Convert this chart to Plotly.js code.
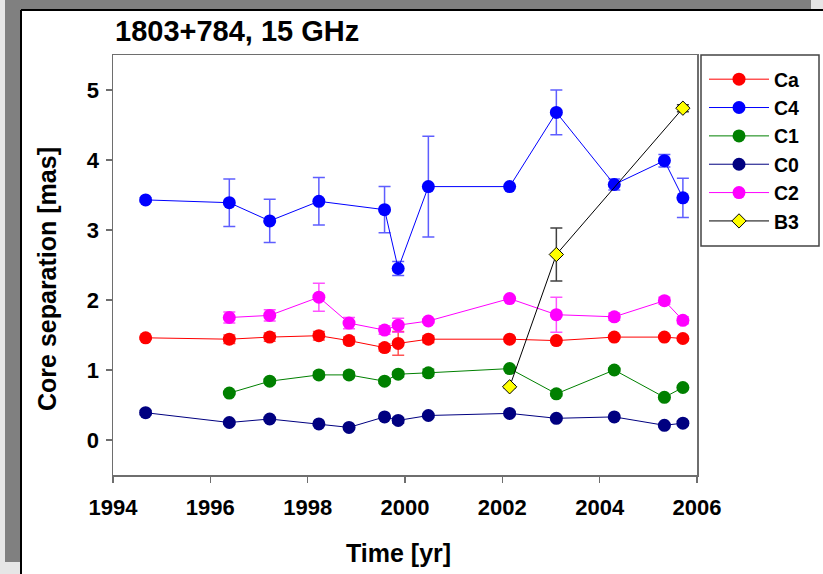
<!DOCTYPE html>
<html>
<head>
<meta charset="utf-8">
<script src="https://cdn.plot.ly/plotly-3.0.1.min.js"></script>
<style>
  html, body { margin: 0; padding: 0; background: #ffffff; }
  #chart { width: 823px; height: 574px; }
</style>
</head>
<body>
<div id="chart"></div>
<script>
// Core separation of jet components of 1803+784 at 15 GHz
const caYears  = [1994.67, 1996.39, 1997.22, 1998.23, 1998.85, 1999.58, 1999.86, 2000.48, 2002.15, 2003.11, 2004.30, 2005.33, 2005.71];
const caSep    = [1.46, 1.44, 1.47, 1.49, 1.42, 1.32, 1.38, 1.44, 1.44, 1.42, 1.47, 1.47, 1.45];
const caErr    = [0.02, 0.06, 0.06, 0.06, 0.05, 0.05, 0.17, 0.05, 0.00, 0.00, 0.02, 0.02, 0.03];

const c4Years  = [1994.67, 1996.39, 1997.22, 1998.23, 1999.58, 1999.86, 2000.48, 2002.15, 2003.11, 2004.30, 2005.33, 2005.71];
const c4Sep    = [3.43, 3.39, 3.13, 3.41, 3.29, 2.45, 3.62, 3.62, 4.68, 3.65, 3.99, 3.46];
const c4Err    = [0.03, 0.34, 0.31, 0.34, 0.33, 0.10, 0.72, 0.00, 0.32, 0.08, 0.09, 0.28];

const c1Years  = [1996.39, 1997.22, 1998.23, 1998.85, 1999.58, 1999.86, 2000.48, 2002.15, 2003.11, 2004.30, 2005.33, 2005.71];
const c1Sep    = [0.67, 0.84, 0.93, 0.93, 0.84, 0.94, 0.96, 1.02, 0.66, 1.00, 0.61, 0.75];
const c1Err    = [0.02, 0.03, 0.04, 0.04, 0.03, 0.04, 0.05, 0.02, 0.03, 0.03, 0.02, 0.02];

const c0Years  = [1994.67, 1996.39, 1997.22, 1998.23, 1998.85, 1999.58, 1999.86, 2000.48, 2002.15, 2003.11, 2004.30, 2005.33, 2005.71];
const c0Sep    = [0.39, 0.25, 0.30, 0.23, 0.18, 0.33, 0.28, 0.35, 0.38, 0.31, 0.33, 0.21, 0.24];
const c0Err    = [0.03, 0.02, 0.02, 0.02, 0.02, 0.02, 0.04, 0.02, 0.02, 0.02, 0.02, 0.02, 0.03];

const c2Years  = [1996.39, 1997.22, 1998.23, 1998.85, 1999.58, 1999.86, 2000.48, 2002.15, 2003.11, 2004.30, 2005.33, 2005.71];
const c2Sep    = [1.75, 1.78, 2.04, 1.67, 1.57, 1.64, 1.70, 2.02, 1.79, 1.76, 1.99, 1.71];
const c2Err    = [0.08, 0.08, 0.20, 0.08, 0.06, 0.10, 0.03, 0.02, 0.25, 0.05, 0.05, 0.05];

const b3Years  = [2002.15, 2003.11, 2005.71];
const b3Sep    = [0.76, 2.65, 4.74];
const b3Err    = [0.02, 0.38, 0.05];

const xTickVals = [1994, 1996, 1998, 2000, 2002, 2004, 2006];
const yTickVals = [0, 1, 2, 3, 4, 5];

const FONT = 'Liberation Sans, Arial, Helvetica, sans-serif';

function circleSeries(name, xs, ys, errs, color, barColor) {
  return {
    type: 'scatter', mode: 'lines+markers', name: name,
    x: xs, y: ys,
    line: { color: color, width: 1 },
    marker: { symbol: 'circle', size: 13, color: color, line: { width: 0 } },
    error_y: { type: 'data', array: errs, visible: true, color: barColor, thickness: 1.5, width: 6 }
  };
}

const traces = [
  circleSeries('Ca', caYears, caSep, caErr, '#ff0000', 'rgba(255,40,40,0.8)'),
  circleSeries('C4', c4Years, c4Sep, c4Err, '#0000ff', 'rgba(40,40,255,0.75)'),
  circleSeries('C1', c1Years, c1Sep, c1Err, '#008000', 'rgba(60,150,60,0.8)'),
  circleSeries('C0', c0Years, c0Sep, c0Err, '#000080', 'rgba(30,30,140,0.8)'),
  circleSeries('C2', c2Years, c2Sep, c2Err, '#ff00ff', 'rgba(255,40,255,0.8)'),
  {
    type: 'scatter', mode: 'lines+markers', name: 'B3',
    x: b3Years, y: b3Sep,
    line: { color: '#000000', width: 1 },
    marker: { symbol: 'diamond', size: 11, color: '#ffff00', line: { color: '#000000', width: 1 } },
    error_y: { type: 'data', array: b3Err, visible: true, color: '#404040', thickness: 1.5, width: 6 }
  }
];

// plot area in page pixels
const L = 113, R = 697, T = 55, B = 475, W = 823, H = 574;
const px = v => (v - L) / (R - L);
const py = v => (B - v) / (B - T);

function rect(x0, y0, x1, y1, fill, layer, border) {
  return { type: 'rect', xref: 'paper', yref: 'paper', layer: layer || 'below',
           x0: px(x0), x1: px(x1), y0: py(y0), y1: py(y1),
           fillcolor: fill, line: border || { width: 0 } };
}
function seg(x0, y0, x1, y1) {
  return { type: 'line', xref: 'paper', yref: 'paper', layer: 'below',
           x0: px(x0), x1: px(x1), y0: py(y0), y1: py(y1),
           line: { color: '#000000', width: 2 } };
}

const frameShapes = [
  rect(0, 0, W, 11, '#e6e6e6'),
  rect(0, 0, 22, H, '#e6e6e6'),
  rect(5, 0, 811, 10, '#808080'),
  rect(5, 0, 21, 562, '#808080'),
  seg(21, 10, W, 10),
  seg(21, 10, 21, H),
  // legend frame
  rect(701, 55, 819, 246, '#ffffff', 'below', { color: '#444444', width: 1.5 })
];

const axisCommon = {
  showline: true, linecolor: '#6e6e6e', linewidth: 1.5, mirror: true,
  ticks: 'outside', ticklen: 6, tickwidth: 1.5, tickcolor: '#6e6e6e',
  showgrid: false, zeroline: false,
  tickfont: { family: FONT, size: 22, color: '#000000', weight: 'bold' }
};

const titleFont = { family: FONT, size: 25, color: '#000000', weight: 'bold' };

const layout = {
  width: W, height: H,
  margin: { l: L, r: W - R, t: T, b: H - B, pad: 0 },
  paper_bgcolor: '#ffffff', plot_bgcolor: '#ffffff',
  showlegend: true,
  title: {
    text: '1803+784, 15 GHz',
    font: { family: FONT, size: 29, color: '#000000', weight: 'bold' },
    xref: 'paper', x: px(115), xanchor: 'left',
    yref: 'container', y: 1 - 31 / H, yanchor: 'middle'
  },
  xaxis: Object.assign({}, axisCommon, {
    range: [1994, 2006], tickvals: xTickVals, ticktext: xTickVals.map(String),
    ticklabelstandoff: 6
  }),
  yaxis: Object.assign({}, axisCommon, {
    range: [-0.5, 5.5], tickvals: yTickVals, ticktext: yTickVals.map(String),
    ticklabelstandoff: 2
  }),
  annotations: [
    { text: 'Time [yr]', xref: 'paper', yref: 'paper', x: px(398), y: py(553),
      xanchor: 'center', yanchor: 'middle', showarrow: false, font: titleFont },
    { text: 'Core separation [mas]', xref: 'paper', yref: 'paper', x: px(47), y: py(279),
      xanchor: 'center', yanchor: 'middle', textangle: -90, showarrow: false, font: titleFont }
  ],
  legend: {
    x: px(704), xanchor: 'left', y: py(60), yanchor: 'top',
    bgcolor: 'rgba(0,0,0,0)', borderwidth: 0,
    font: { family: FONT, size: 19.5, color: '#000000', weight: 'bold' },
    traceorder: 'normal', itemwidth: 60
  },
  shapes: frameShapes
};

Plotly.newPlot('chart', traces, layout, { displayModeBar: false, staticPlot: true });
</script>
</body>
</html>
